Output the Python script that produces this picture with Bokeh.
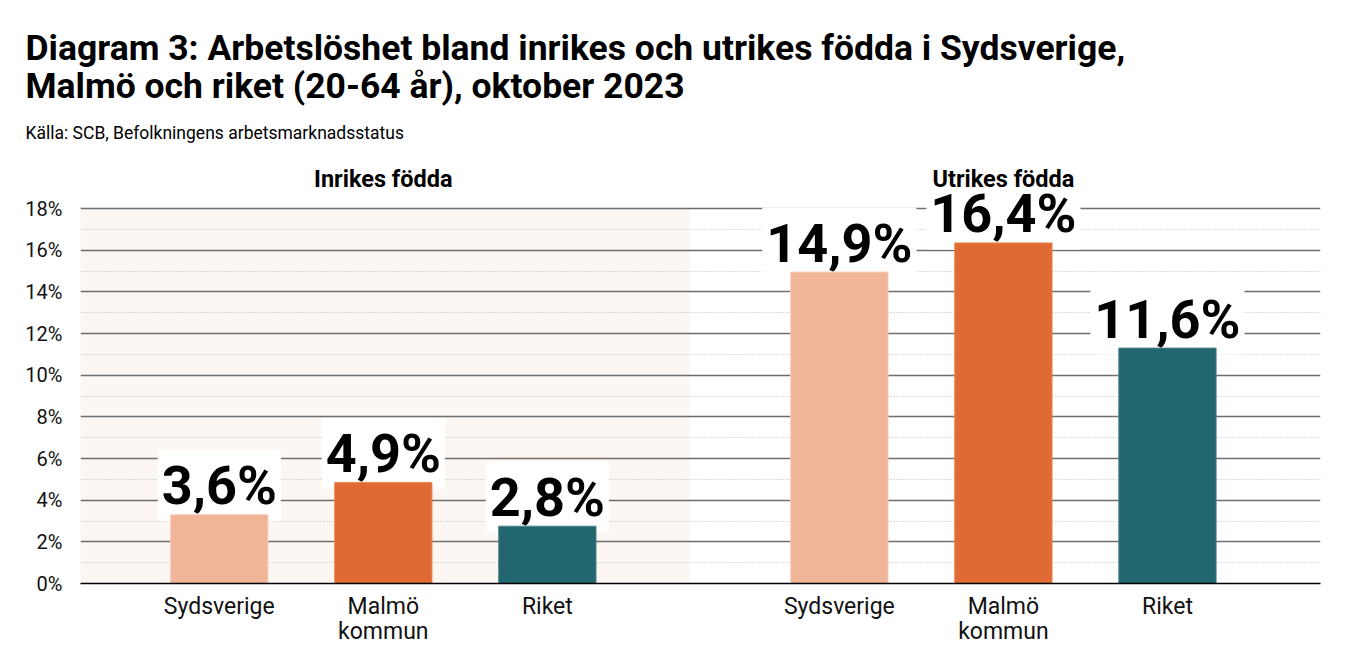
from bokeh.plotting import figure
from bokeh.models import (Range1d, FixedTicker, PrintfTickFormatter, BoxAnnotation,
                          ColumnDataSource, Title)
from bokeh.core.properties import value
from bokeh.embed import file_html
from bokeh.resources import INLINE

# ---------------- data ----------------
groups = ["Inrikes födda", "Utrikes födda"]
categories = ["Sydsverige", "Malmö\nkommun", "Riket"]
bar_values = [[3.3, 4.85, 2.75], [14.95, 16.35, 11.3]]
bar_labels = [["3,6%", "4,9%", "2,8%"], ["14,9%", "16,4%", "11,6%"]]
colors = ["#F0B499", "#E06A33", "#22666F"]
outline_colors = ["#F8CDB8", "#EE8550", "#4C8189"]
y_ticks = [0, 2, 4, 6, 8, 10, 12, 14, 16, 18]
y_minor = [1, 3, 5, 7, 9, 11, 13, 15, 17]

title_lines = ["Diagram 3: Arbetslöshet bland inrikes och utrikes födda i Sydsverige,",
               "Malmö och riket (20-64 år), oktober 2023"]
source_text = "Källa: SCB, Befolkningens arbetsmarknadsstatus"

# ---------------- layout constants ----------------
SLOT = 100          # distance between bars in a group
GROUP_GAP = 378     # distance between the first bars of each group
BAR_W = 59.3
Y_END = 21.17

xs, tops, labs, cols, lcols = [], [], [], [], []
tick_pos, tick_over = [], {}
for g in range(len(groups)):
    for i, cat in enumerate(categories):
        x = g * GROUP_GAP + i * SLOT
        xs.append(x)
        tops.append(bar_values[g][i])
        labs.append(bar_labels[g][i])
        cols.append(colors[i])
        lcols.append(outline_colors[i])
        tick_pos.append(x)
        tick_over[x] = cat

src = ColumnDataSource(dict(x=xs, top=tops, label=labs, color=cols, lcolor=lcols))

FONT = "Roboto"

p = figure(width=1340, height=655, output_backend="svg", toolbar_location=None,
           x_range=Range1d(-84.6, 671.3), y_range=Range1d(0, Y_END),
           min_border_left=80, min_border_right=20, min_border_bottom=72,
           min_border_top=142)
p.outline_line_color = None
p.background_fill_color = "white"

# shaded panel behind the domestic-born group
shade = BoxAnnotation(left=-84.6, right=287, bottom=0, top=18,
                      fill_color="#FCF7F3", fill_alpha=1, line_color=None, level="image")
p.add_layout(shade)

# grids
p.xgrid.grid_line_color = None
p.ygrid.ticker = FixedTicker(ticks=y_ticks, minor_ticks=y_minor)
p.ygrid.grid_line_color = "#6E6E6E"
p.ygrid.grid_line_width = 1.6
p.ygrid.minor_grid_line_color = "#B8B8B8"
p.ygrid.minor_grid_line_dash = "1 2"
p.ygrid.minor_grid_line_width = 1

# y axis
p.yaxis.ticker = FixedTicker(ticks=y_ticks)
p.yaxis.formatter = PrintfTickFormatter(format="%d%%")
p.yaxis.axis_line_color = None
p.yaxis.major_tick_line_color = None
p.yaxis.minor_tick_line_color = None
p.yaxis.major_label_standoff = 12
p.yaxis.major_label_text_font = FONT
p.yaxis.major_label_text_font_size = "20px"
p.yaxis.major_label_text_color = "#111111"

# x axis
p.xaxis.ticker = FixedTicker(ticks=tick_pos)
p.xaxis.major_label_overrides = tick_over
p.xaxis.axis_line_color = "black"
p.xaxis.axis_line_width = 1.5
p.xaxis.major_tick_line_color = None
p.xaxis.minor_tick_line_color = None
p.xaxis.major_label_standoff = 3
p.xaxis.major_label_text_font = FONT
p.xaxis.major_label_text_font_size = "23px"
p.xaxis.major_label_text_line_height = 0.95
p.xaxis.major_label_text_color = "#111111"

# value labels (drawn before bars so the white box never covers a bar)
p.text(x="x", y="top", text="label", source=src, text_align="center",
       text_baseline="alphabetic", y_offset=-29, text_font=value(FONT),
       text_font_style="bold", text_font_size="54px", text_color="black",
       background_fill_color="white", padding=4)

p.vbar(x="x", top="top", width=BAR_W, bottom=0, source=src,
       fill_color="color", line_color="lcolor", line_width=1)

# group headers
gx = [g * GROUP_GAP + SLOT for g in range(len(groups))]
p.text(x=gx, y=[19.4] * len(groups), text=groups, text_align="center",
       text_baseline="middle", text_font=value(FONT), text_font_style="bold",
       text_font_size="23.5px", text_color="black")

# titles (stacked above; later ones sit higher)
p.add_layout(Title(text=source_text, text_font=FONT, text_font_size="17.5px",
                   text_font_style="normal", text_color="black", align="left",
                   offset=-55, standoff=0), "above")
p.add_layout(Title(text="\n".join(title_lines), text_font=FONT, text_font_size="35.5px",
                   text_font_style="bold", text_color="black", align="left",
                   text_line_height=0.92, offset=-55, standoff=26), "above")

open("out.html", "w").write(file_html(p, INLINE))
